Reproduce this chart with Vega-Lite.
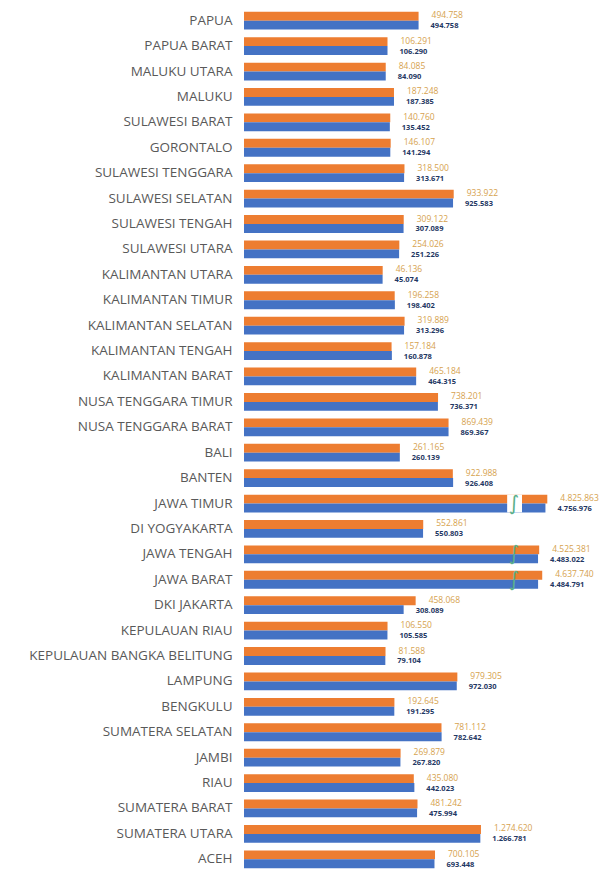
{
  "$schema": "https://vega.github.io/schema/vega-lite/v6.json",
  "autosize": "none",
  "width": 358,
  "height": 864,
  "padding": {"left": 244, "top": 8, "right": 0, "bottom": 0},
  "background": "white",
  "config": {
    "view": {"stroke": null},
    "locale": {"number": {"decimal": ",", "thousands": ".", "grouping": [3], "currency": ["Rp", ""]}}
  },
  "datasets": {
    "rows": [
      {"p": "PAPUA", "s": "A", "v": 494758}, {"p": "PAPUA", "s": "B", "v": 494758},
      {"p": "PAPUA BARAT", "s": "A", "v": 106291}, {"p": "PAPUA BARAT", "s": "B", "v": 106290},
      {"p": "MALUKU UTARA", "s": "A", "v": 84085}, {"p": "MALUKU UTARA", "s": "B", "v": 84090},
      {"p": "MALUKU", "s": "A", "v": 187248}, {"p": "MALUKU", "s": "B", "v": 187385},
      {"p": "SULAWESI BARAT", "s": "A", "v": 140760}, {"p": "SULAWESI BARAT", "s": "B", "v": 135452},
      {"p": "GORONTALO", "s": "A", "v": 146107}, {"p": "GORONTALO", "s": "B", "v": 141294},
      {"p": "SULAWESI TENGGARA", "s": "A", "v": 318500}, {"p": "SULAWESI TENGGARA", "s": "B", "v": 313671},
      {"p": "SULAWESI SELATAN", "s": "A", "v": 933922}, {"p": "SULAWESI SELATAN", "s": "B", "v": 925583},
      {"p": "SULAWESI TENGAH", "s": "A", "v": 309122}, {"p": "SULAWESI TENGAH", "s": "B", "v": 307089},
      {"p": "SULAWESI UTARA", "s": "A", "v": 254026}, {"p": "SULAWESI UTARA", "s": "B", "v": 251226},
      {"p": "KALIMANTAN UTARA", "s": "A", "v": 46136}, {"p": "KALIMANTAN UTARA", "s": "B", "v": 45074},
      {"p": "KALIMANTAN TIMUR", "s": "A", "v": 196258}, {"p": "KALIMANTAN TIMUR", "s": "B", "v": 198402},
      {"p": "KALIMANTAN SELATAN", "s": "A", "v": 319889}, {"p": "KALIMANTAN SELATAN", "s": "B", "v": 313296},
      {"p": "KALIMANTAN TENGAH", "s": "A", "v": 157184}, {"p": "KALIMANTAN TENGAH", "s": "B", "v": 160878},
      {"p": "KALIMANTAN BARAT", "s": "A", "v": 465184}, {"p": "KALIMANTAN BARAT", "s": "B", "v": 464315},
      {"p": "NUSA TENGGARA TIMUR", "s": "A", "v": 738201}, {"p": "NUSA TENGGARA TIMUR", "s": "B", "v": 736371},
      {"p": "NUSA TENGGARA BARAT", "s": "A", "v": 869439}, {"p": "NUSA TENGGARA BARAT", "s": "B", "v": 869367},
      {"p": "BALI", "s": "A", "v": 261165}, {"p": "BALI", "s": "B", "v": 260139},
      {"p": "BANTEN", "s": "A", "v": 922988}, {"p": "BANTEN", "s": "B", "v": 926408},
      {"p": "JAWA TIMUR", "s": "A", "v": 4825863}, {"p": "JAWA TIMUR", "s": "B", "v": 4756976},
      {"p": "DI YOGYAKARTA", "s": "A", "v": 552861}, {"p": "DI YOGYAKARTA", "s": "B", "v": 550803},
      {"p": "JAWA TENGAH", "s": "A", "v": 4525381}, {"p": "JAWA TENGAH", "s": "B", "v": 4483022},
      {"p": "JAWA BARAT", "s": "A", "v": 4637740}, {"p": "JAWA BARAT", "s": "B", "v": 4484791},
      {"p": "DKI JAKARTA", "s": "A", "v": 458068}, {"p": "DKI JAKARTA", "s": "B", "v": 308089},
      {"p": "KEPULAUAN RIAU", "s": "A", "v": 106550}, {"p": "KEPULAUAN RIAU", "s": "B", "v": 105585},
      {"p": "KEPULAUAN BANGKA BELITUNG", "s": "A", "v": 81588}, {"p": "KEPULAUAN BANGKA BELITUNG", "s": "B", "v": 79104},
      {"p": "LAMPUNG", "s": "A", "v": 979305}, {"p": "LAMPUNG", "s": "B", "v": 972030},
      {"p": "BENGKULU", "s": "A", "v": 192645}, {"p": "BENGKULU", "s": "B", "v": 191295},
      {"p": "SUMATERA SELATAN", "s": "A", "v": 781112}, {"p": "SUMATERA SELATAN", "s": "B", "v": 782642},
      {"p": "JAMBI", "s": "A", "v": 269879}, {"p": "JAMBI", "s": "B", "v": 267820},
      {"p": "RIAU", "s": "A", "v": 435080}, {"p": "RIAU", "s": "B", "v": 442023},
      {"p": "SUMATERA BARAT", "s": "A", "v": 481242}, {"p": "SUMATERA BARAT", "s": "B", "v": 475994},
      {"p": "SUMATERA UTARA", "s": "A", "v": 1274620}, {"p": "SUMATERA UTARA", "s": "B", "v": 1266781},
      {"p": "ACEH", "s": "A", "v": 700105}, {"p": "ACEH", "s": "B", "v": 693448}
    ]
  },
  "data": {"name": "rows"},
  "encoding": {
    "y": {
      "field": "p", "type": "nominal", "sort": null,
      "scale": {"paddingInner": 0.3, "paddingOuter": 0.15},
      "axis": {"title": null, "ticks": false, "domain": false, "labelPadding": 12, "labelFontSize": 13.5, "labelFont": "Open Sans", "labelColor": "#595959", "labelLimit": 300}
    }
  },
  "layer": [
    {
      "mark": {"type": "bar"},
      "encoding": {
        "x": {"field": "v", "type": "quantitative", "axis": null,
              "scale": {"domain": [-1687500, 1600000, 4000000, 5000000], "range": [0, 263, 281, 308], "nice": false, "zero": false}},
        "x2": {"datum": -1687500},
        "yOffset": {"field": "s", "type": "nominal", "scale": {"paddingInner": 0, "paddingOuter": 0}},
        "color": {"field": "s", "type": "nominal", "legend": null, "scale": {"domain": ["A", "B"], "range": ["#ED7D31", "#4472C4"]}}
      }
    },
    {
      "transform": [{"filter": "datum.p === 'JAWA TIMUR' && datum.s === 'A'"}],
      "mark": {"type": "rect", "color": "white"},
      "encoding": {
        "x": {"datum": 1620000, "type": "quantitative"},
        "x2": {"datum": 3600000}
      }
    },
    {
      "transform": [{"filter": "(datum.p === 'JAWA TIMUR' || datum.p === 'JAWA TENGAH' || datum.p === 'JAWA BARAT') && datum.s === 'A'"}],
      "mark": {"type": "text", "text": "∫", "fontSize": 20, "color": "#5BB08A", "font": "DejaVu Sans"},
      "encoding": {
        "x": {"datum": 2530000, "type": "quantitative"}
      }
    },
    {
      "transform": [{"filter": "datum.s === 'A'"}],
      "mark": {"type": "text", "align": "left", "baseline": "middle", "dx": 13, "dy": -1, "fontSize": 8.5, "font": "Open Sans", "color": "#D6A24E"},
      "encoding": {
        "x": {"field": "v", "type": "quantitative"},
        "yOffset": {"datum": "A"},
        "text": {"field": "v", "type": "quantitative", "format": ",d"}
      }
    },
    {
      "transform": [{"filter": "datum.s === 'B'"}],
      "mark": {"type": "text", "align": "left", "baseline": "middle", "dx": 12, "dy": 1, "fontSize": 7.5, "fontWeight": "bold", "font": "Open Sans", "color": "#1F3864"},
      "encoding": {
        "x": {"field": "v", "type": "quantitative"},
        "yOffset": {"datum": "B"},
        "text": {"field": "v", "type": "quantitative", "format": ",d"}
      }
    }
  ]
}
